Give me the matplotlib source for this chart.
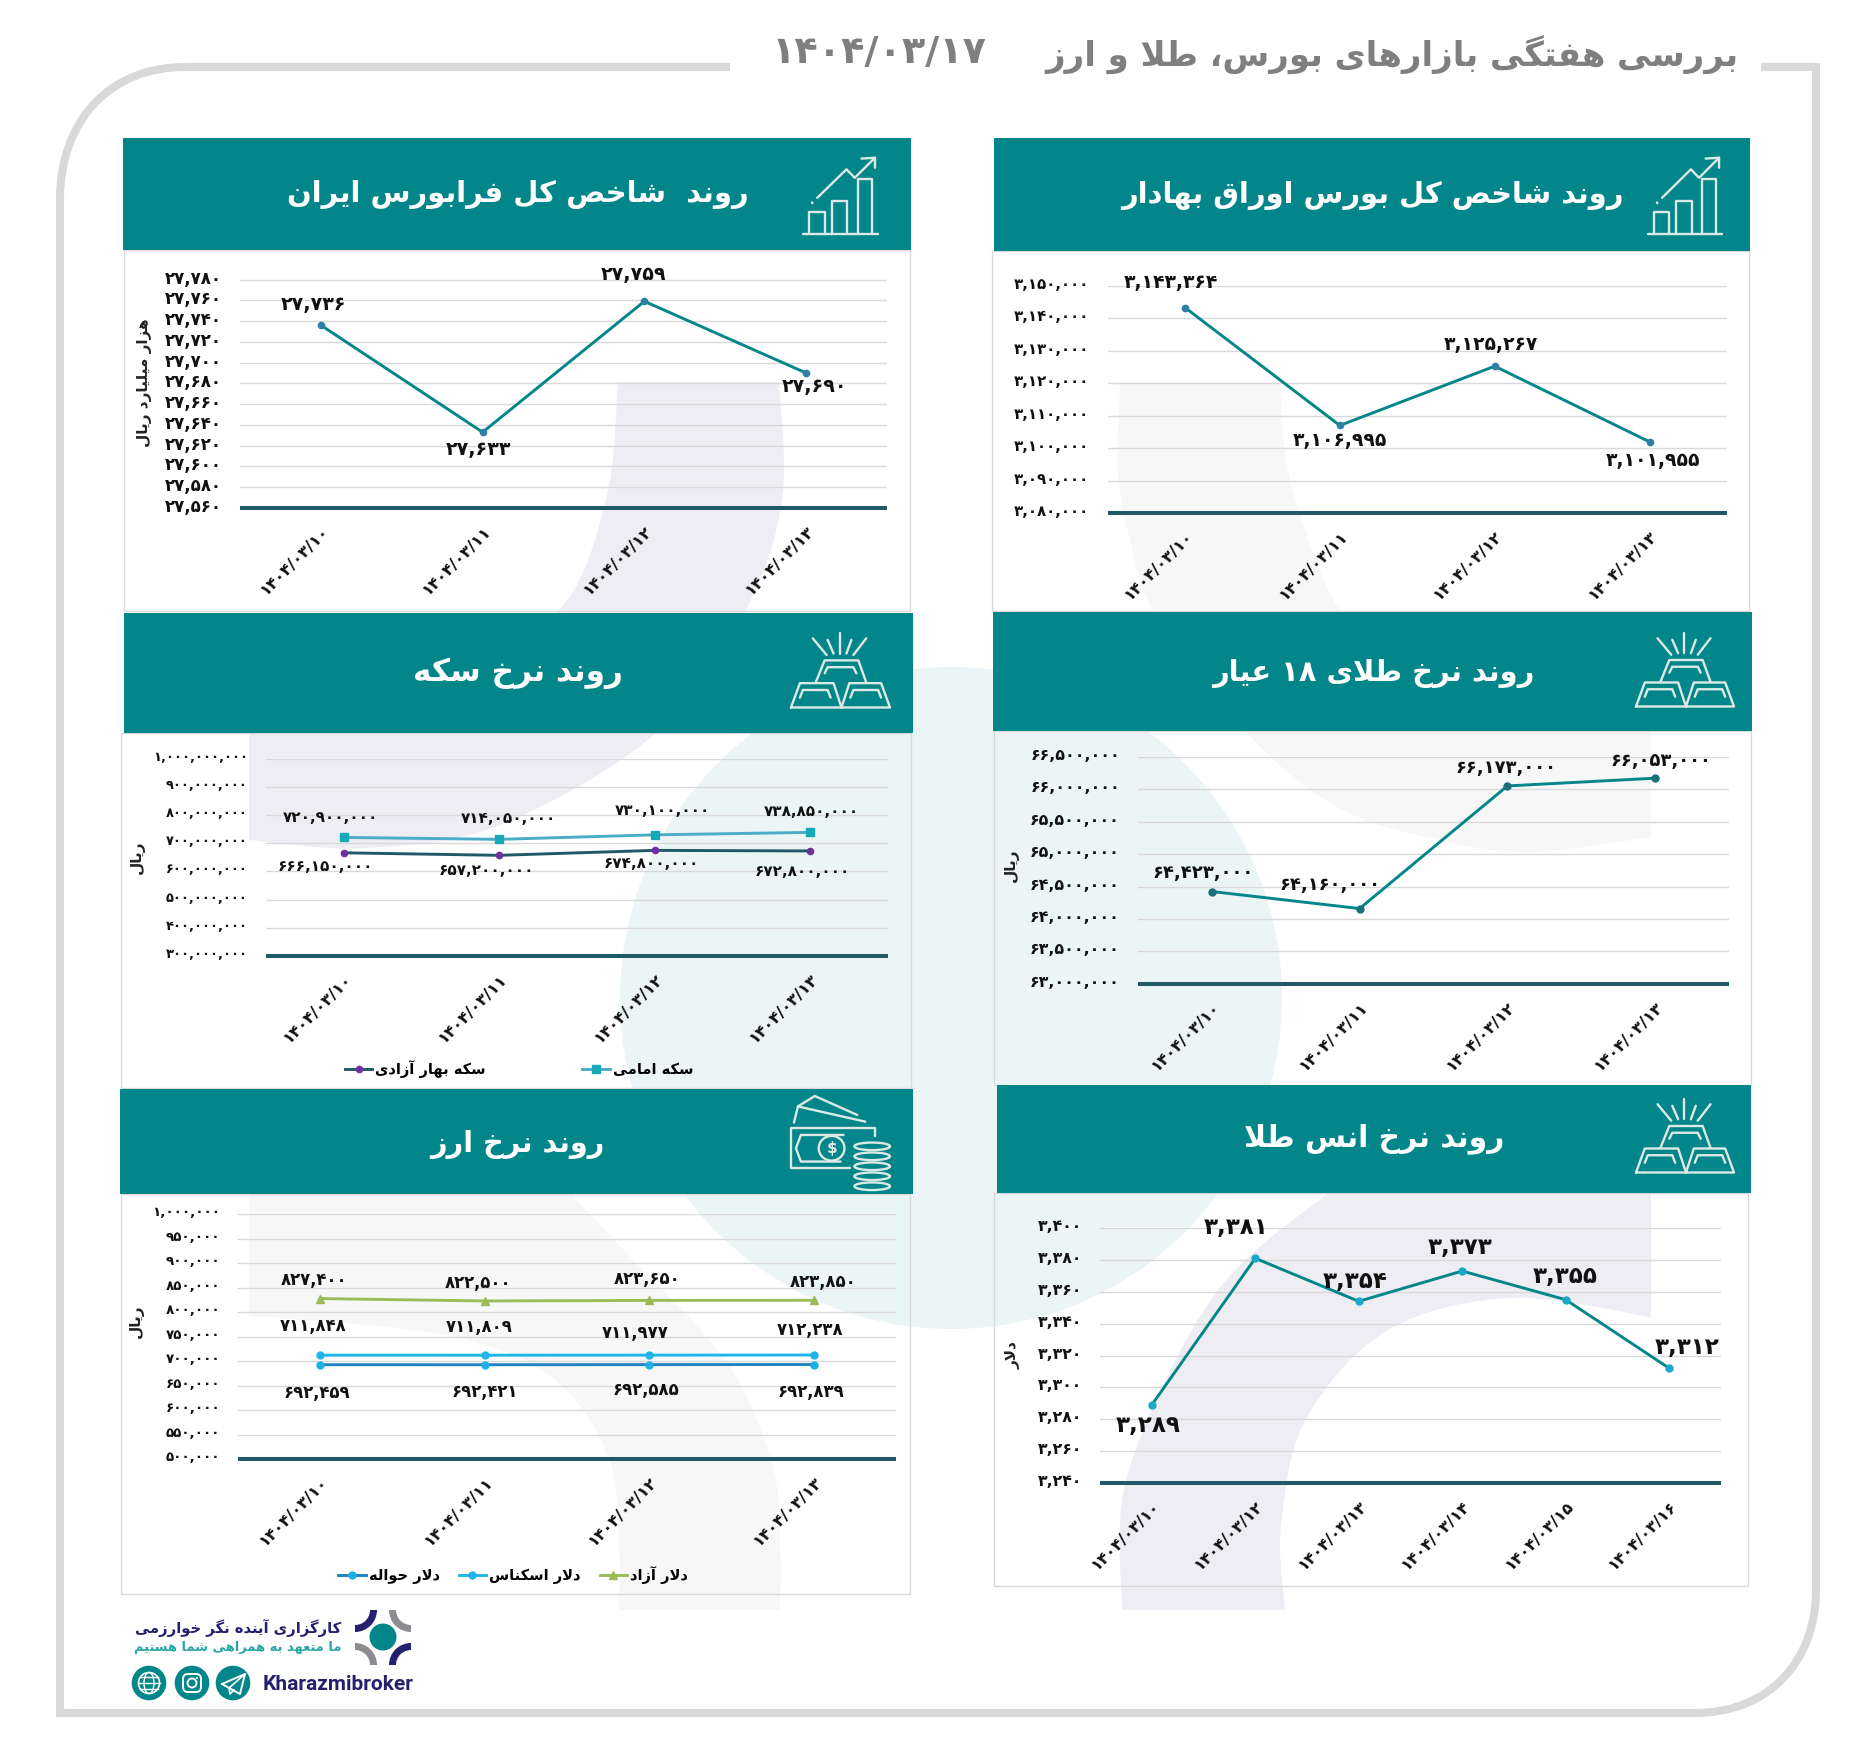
import re
import numpy
import matplotlib
matplotlib.use('Agg')
from matplotlib import pyplot
from matplotlib.patches import Rectangle, Circle, Ellipse, Wedge, Polygon, PathPatch, FancyBboxPatch
from matplotlib.path import Path
from matplotlib.ticker import FuncFormatter
from matplotlib.transforms import ScaledTranslation

W, H = 1860, 1744

# DATA
dates_four = ['۱۴۰۴/۰۳/۱۰', '۱۴۰۴/۰۳/۱۱', '۱۴۰۴/۰۳/۱۲', '۱۴۰۴/۰۳/۱۳']
dates_ounce = ['۱۴۰۴/۰۳/۱۰', '۱۴۰۴/۰۳/۱۲', '۱۴۰۴/۰۳/۱۳', '۱۴۰۴/۰۳/۱۴', '۱۴۰۴/۰۳/۱۵', '۱۴۰۴/۰۳/۱۶']

bourse = [3143364, 3106995, 3125267, 3101955]
farabourse = [27736, 27633, 27759, 27690]
gold18 = [64423000, 64160000, 66053000, 66173000]
# the last two labels are swapped against their points in the original
gold18_labels = [64423000, 64160000, 66173000, 66053000]
coin_emami = [720900000, 714050000, 730100000, 738850000]
coin_bahar = [666150000, 657200000, 674800000, 672800000]
ounce = [3289, 3381, 3354, 3373, 3355, 3312]
usd_free = [827400, 822500, 823650, 823850]
usd_cash = [711848, 711809, 711977, 712238]
usd_transfer = [692459, 692421, 692585, 692839]

main_title = 'بررسی هفتگی بازارهای بورس، طلا و ارز'
main_date = '۱۴۰۴/۰۳/۱۷'

# COLOURS
TEAL = '#02868a'
AXISLINE = '#215968'
GRID = '#d9d9d9'
FRAME = '#d9d9d9'
LAVENDER = '#eeedf4'
PALEGREY = '#f7f7f7'
PALETEAL = '#ebf5f6'
ICON = '#dde9e6'
NAVY = '#25206e'
GREY = '#8c8c90'

# PERSIAN TEXT
# matplotlib does no shaping, so letters are swapped for their presentation forms
FORMS = {
    'ا': (0xFE8D, 0xFE8E), 'آ': (0xFE81, 0xFE82), 'د': (0xFEA9, 0xFEAA), 'ر': (0xFEAD, 0xFEAE),
    'ز': (0xFEAF, 0xFEB0), 'و': (0xFEED, 0xFEEE), '\uFEFB': (0xFEFB, 0xFEFC),
    'ب': (0xFE8F, 0xFE90, 0xFE91, 0xFE92), 'پ': (0xFB56, 0xFB57, 0xFB58, 0xFB59),
    'ت': (0xFE95, 0xFE96, 0xFE97, 0xFE98), 'ح': (0xFEA1, 0xFEA2, 0xFEA3, 0xFEA4),
    'خ': (0xFEA5, 0xFEA6, 0xFEA7, 0xFEA8), 'س': (0xFEB1, 0xFEB2, 0xFEB3, 0xFEB4),
    'ش': (0xFEB5, 0xFEB6, 0xFEB7, 0xFEB8), 'ص': (0xFEB9, 0xFEBA, 0xFEBB, 0xFEBC),
    'ط': (0xFEC1, 0xFEC2, 0xFEC3, 0xFEC4), 'ع': (0xFEC9, 0xFECA, 0xFECB, 0xFECC),
    'ف': (0xFED1, 0xFED2, 0xFED3, 0xFED4), 'ق': (0xFED5, 0xFED6, 0xFED7, 0xFED8),
    'ک': (0xFB8E, 0xFB8F, 0xFB90, 0xFB91), 'گ': (0xFB92, 0xFB93, 0xFB94, 0xFB95),
    'ل': (0xFEDD, 0xFEDE, 0xFEDF, 0xFEE0), 'م': (0xFEE1, 0xFEE2, 0xFEE3, 0xFEE4),
    'ن': (0xFEE5, 0xFEE6, 0xFEE7, 0xFEE8), 'ه': (0xFEE9, 0xFEEA, 0xFEEB, 0xFEEC),
    'ی': (0xFBFC, 0xFBFD, 0xFBFE, 0xFBFF),
}


def shape(text):
    text = text.replace('لا', '\uFEFB')
    out = []
    for i, c in enumerate(text):
        if c not in FORMS:
            out.append(c)
            continue
        prev = text[i-1] if i > 0 else ' '
        nxt = text[i+1] if i < len(text)-1 else ' '
        f = FORMS[c]
        join_prev = prev in FORMS and len(FORMS[prev]) == 4
        join_next = nxt in FORMS and len(f) == 4
        if join_prev and join_next:
            out.append(chr(f[3]))
        elif join_next:
            out.append(chr(f[2]))
        elif join_prev:
            out.append(chr(f[1]))
        else:
            out.append(chr(f[0]))
    res = ''.join(out)[::-1]
    # digits keep reading left to right
    return re.sub('[۰-۹]+', lambda m: m.group()[::-1], res)


def fa_num(v, pos=None):
    return f'{v:,.0f}'.translate(str.maketrans('0123456789', '۰۱۲۳۴۵۶۷۸۹'))


# HELPERS
def curve(pts, n=12):
    # catmull-rom through the points
    p = numpy.array(pts, dtype=float)
    p = numpy.vstack([p[0], p, p[-1]])
    out = []
    for i in range(1, len(p)-2):
        for t in numpy.linspace(0, 1, n, endpoint=False):
            out.append(0.5*((2*p[i]) + (p[i+1]-p[i-1])*t + (2*p[i-1]-5*p[i]+4*p[i+1]-p[i+2])*t*t
                            + (3*p[i]-p[i-1]-3*p[i+1]+p[i+2])*t*t*t))
    out.append(p[-2])
    return numpy.array(out)


def icon(box, lines, lw=1.7):
    x, y, w, h = box
    for l in lines:
        l = numpy.array(l)
        bg.plot(x + l[:, 0]*w, y + l[:, 1]*h, color=ICON, lw=lw, solid_capstyle='round', zorder=5)


def chart_icon(box):
    icon(box, [
        [(0, 1), (1, 1)],
        [(.08, 1), (.08, .72), (.29, .72), (.29, 1)],
        [(.38, 1), (.38, .57), (.59, .57), (.59, 1)],
        [(.73, 1), (.73, .29), (.92, .29), (.92, 1)],
        [(.19, .53), (.58, .16), (.69, .27), (.96, .01)],
        [(.78, .02), (.96, .01), (.96, .14)],
        [(.12, .59), (.125, .6)],
    ])


def gold_icon(box):
    icon(box, [
        [(.22, .07), (.36, .29)], [(.37, .09), (.43, .27)], [(.49, 0), (.49, .27)],
        [(.61, .09), (.56, .27)], [(.76, .07), (.63, .29)],
        [(.25, .65), (.34, .36), (.68, .36), (.76, .65)],
        [(.34, .53), (.37, .45), (.63, .45), (.66, .53)],
        [(0, .98), (.09, .66), (.43, .66), (.51, .98), (0, .98)],
        [(.51, .98), (.59, .66), (.91, .66), (1, .98), (.51, .98)],
        [(.09, .85), (.12, .75), (.37, .75), (.4, .85)],
        [(.6, .85), (.63, .75), (.88, .75), (.91, .85)],
    ])


def money_icon(box):
    x, y, w, h = box
    icon(box, [
        [(.03, .28), (.07, .11), (.75, .27)],
        [(.07, .11), (.24, 0), (.67, .2)],
        [(.85, .42), (.85, .34), (0, .34), (0, .76), (.6, .76)],
        [(.53, .41), (.1, .41), (.05, .55), (.1, .69), (.5, .69)],
    ])
    bg.add_patch(Ellipse((x+.41*w, y+.55*h), .26*w, .26*h, fc=TEAL, ec=ICON, lw=1.7, zorder=6))
    bg.text(x+.41*w, y+.55*h, '$', color=ICON, fontsize=11, fontweight='bold', ha='center', va='center', zorder=7)
    bg.add_patch(Rectangle((x+.64*w, y+.5*h), .36*w, .46*h, fc=TEAL, ec='none', zorder=6))
    for k in range(5):
        bg.add_patch(Ellipse((x+.82*w, y+(.95-k*.105)*h), .36*w, .08*h, fc=TEAL, ec=ICON, lw=1.7, zorder=6+k*.1))


def header(rect, body, title, tx, ty, size):
    x0, y0, x1, y1 = rect
    bx0, by0, bx1, by1 = body
    bg.add_patch(Rectangle((bx0, by0), bx1-bx0, by1-by0, fc='none', ec=GRID, lw=1.0, zorder=3))
    bg.add_patch(Rectangle((x0, y0), x1-x0, y1-y0, fc=TEAL, ec='none', zorder=4))
    bg.text(tx, ty, shape(title), color='white', fontsize=size, fontweight='bold', ha='center', va='center', zorder=6)


def chart(rect, dates, ylim, step, series, ylabel=None, ylabel_at=None, label_size=9.5, tick_size=9.2):
    # rect is the grid area in pixels, series holds (values, labels, colour, marker, marker colour, offsets)
    x0, y0, x1, y1 = rect
    ax = fig.add_axes([x0/W, 1-y1/H, (x1-x0)/W, (y1-y0)/H], zorder=10)
    ax.patch.set_alpha(0)
    lines = []
    pos = numpy.arange(len(dates))
    for values, labels, col, marker, mcol, ms, offs in series:
        l, = ax.plot(pos, values, color=col, lw=2.1, marker=marker, ms=ms, mfc=mcol, mec=mcol, clip_on=False, zorder=4)
        lines.append(l)
        for i, lab in enumerate(labels):
            ax.annotate(fa_num(lab), (pos[i], values[i]), xytext=offs[i], textcoords='offset pixels',
                        ha='center', va='center', fontsize=label_size, fontweight='bold', color='#111111', zorder=5)
    ax.set_xlim(-0.5, len(dates)-0.5)
    ax.set_ylim(*ylim)
    ax.set_yticks(numpy.arange(ylim[0], ylim[1]+step/2, step))
    ax.yaxis.set_major_formatter(FuncFormatter(fa_num))
    ax.set_xticks(pos)
    ax.set_xticklabels(dates, rotation=45, ha='right', rotation_mode='anchor', fontsize=11.5, fontweight='bold', color='#111111')
    ax.tick_params(axis='both', length=0)
    ax.tick_params(axis='y', labelsize=tick_size, pad=13, labelcolor='#111111')
    ax.tick_params(axis='x', pad=11)
    # tick labels sit a little above their grid lines
    lift = ScaledTranslation(0, 3/100, fig.dpi_scale_trans)
    for t in ax.get_yticklabels():
        t.set_fontweight('bold')
        t.set_transform(t.get_transform() + lift)
    ax.grid(axis='y', color=GRID, lw=1.0)
    ax.set_axisbelow(True)
    for s in ['top', 'left', 'right']:
        ax.spines[s].set_visible(False)
    ax.spines['bottom'].set_color(AXISLINE)
    ax.spines['bottom'].set_linewidth(2.9)
    ax.spines['bottom'].set_capstyle('butt')
    if ylabel:
        ax.set_ylabel(shape(ylabel), fontsize=11, fontweight='bold', color='#222222', ha='center', va='center')
        ax.yaxis.set_label_coords(ylabel_at[0], ylabel_at[1], transform=bg.transData)
    return ax, lines


# FIGURE
fig = pyplot.figure(figsize=(W/100, H/100), dpi=100, facecolor='white')
bg = fig.add_axes([0, 0, 1, 1], zorder=0)
bg.set_xlim(0, W)
bg.set_ylim(H, 0)
bg.set_axis_off()

# WATERMARK
bg.add_patch(Circle((951, 998), 331, fc=PALETEAL, ec='none', zorder=1))
top_left = numpy.vstack([
    [(618, 382), (779, 382)],
    curve([(779, 382), (782, 500), (745, 611), (656, 733), (500, 825), (365, 848), (249, 840)]),
    [(249, 640)],
    curve([(450, 650), (558, 611), (606, 500), (618, 382)]),
])
bottom_right = numpy.vstack([
    curve([(1122, 1610), (1128, 1473), (1215, 1294), (1332, 1190)]),
    [(1651, 1190), (1651, 1317)],
    curve([(1651, 1317), (1511, 1298), (1388, 1330), (1306, 1419), (1281, 1526), (1285, 1610)]),
])
top_right = numpy.vstack([
    [(1120, 382), (1280, 382)],
    curve([(1280, 382), (1290, 480), (1340, 611), (1420, 680), (1651, 690)]),
    [(1651, 837)],
    curve([(1651, 837), (1531, 852), (1439, 840), (1337, 807), (1245, 731), (1154, 611), (1130, 540), (1118, 470), (1120, 382)]),
])
bottom_left = numpy.vstack([
    [(249, 1190), (571, 1190)],
    curve([(571, 1194), (629, 1256), (725, 1360), (772, 1463), (780, 1546), (780, 1610)]),
    curve([(619, 1610), (619, 1546), (608, 1455), (550, 1376), (444, 1335), (249, 1316)]),
])
bg.add_patch(Polygon(top_left, fc=LAVENDER, ec='none', zorder=2))
bg.add_patch(Polygon(bottom_right, fc=LAVENDER, ec='none', zorder=2))
bg.add_patch(Polygon(top_right, fc=PALEGREY, ec='none', zorder=2))
bg.add_patch(Polygon(bottom_left, fc=PALEGREY, ec='none', zorder=2))

# OUTER FRAME
frame = Path(
    [(730, 67), (185, 67), (110, 67), (60, 120), (60, 200), (60, 1713), (1695, 1713),
     (1770, 1713), (1816, 1660), (1816, 1590), (1816, 67), (1761, 67)],
    [Path.MOVETO, Path.LINETO, Path.CURVE4, Path.CURVE4, Path.CURVE4, Path.LINETO, Path.LINETO,
     Path.CURVE4, Path.CURVE4, Path.CURVE4, Path.LINETO, Path.LINETO])
bg.add_patch(PathPatch(frame, fc='none', ec=FRAME, lw=5.8, capstyle='butt', joinstyle='miter', zorder=3))

# TITLE
bg.text(1392, 55, shape(main_title), color='#7f7f7f', fontsize=24.4, fontweight='bold', ha='center', va='center')
bg.text(879, 53, main_date, color='#7f7f7f', fontsize=27.5, fontweight='bold', ha='center', va='center')

# PANELS
header((994, 138, 1750, 251), (992, 251, 1749, 611), 'روند شاخص کل بورس اوراق بهادار', 1372, 195, 20.8)
chart_icon((1648, 157, 74, 77))
chart((1107.5, 286, 1727, 513), dates_four, (3080000, 3150000), 10000, [
    (bourse, bourse, TEAL, 'o', '#2f7fa5', 4.5, [(-14, 25), (0, -15), (-4, 22), (3, -19)]),
], label_size=13.5, tick_size=10.8)

header((123, 138, 911, 250), (124, 250, 910, 611), 'روند  شاخص کل فرابورس ایران', 518, 194, 20.9)
chart_icon((803, 157, 75, 77))
chart((240, 279.5, 887, 508), dates_four, (27560, 27780), 20, [
    (farabourse, farabourse, TEAL, 'o', '#2f7fa5', 4.5, [(-7, 21), (-4, -17), (-11, 27), (8, -14)]),
], ylabel='هزار میلیارد ریال', ylabel_at=(144, 383), label_size=13.7, tick_size=12)

header((993, 612, 1752, 731), (994, 731, 1751, 1085), 'روند نرخ طلای ۱۸ عیار', 1373, 673, 20.8)
gold_icon((1636, 633, 98, 75))
chart((1138, 757, 1729, 983.7), dates_four, (63000000, 66500000), 500000, [
    (gold18, gold18_labels, TEAL, 'o', '#1b6f78', 5, [(-9, 19), (-30, 24), (-1, 18), (6, 17)]),
], ylabel='ریال', ylabel_at=(1011, 865), label_size=12.9, tick_size=11.4)

header((124, 612.7, 913, 733), (121, 733, 910.5, 1088), 'روند نرخ سکه', 518, 673, 22.4)
gold_icon((791, 633, 99, 76))
ax, ln = chart((266, 759, 888, 955.7), dates_four, (300000000, 1000000000), 100000000, [
    (coin_emami, coin_emami, '#4bacc6', 's', '#17a9b8', 6, [(-13, 20), (9, 21), (8, 24), (1, 21)]),
    (coin_bahar, coin_bahar, AXISLINE, 'o', '#7030a0', 4.5, [(-18, -14), (-13, -15), (-3, -13), (-8, -21)]),
], ylabel='ریال', ylabel_at=(137, 857), label_size=11, tick_size=9.4)
ax.legend([ln[1], ln[0]], [shape('سکه بهار آزادی'), shape('سکه امامی')], loc='center', ncols=2, frameon=False,
          bbox_to_anchor=(519/W, 1-1069/H), bbox_transform=fig.transFigure, columnspacing=6.6,
          handlelength=1.9, handletextpad=0.2, prop={'size': 10.5, 'weight': 'bold'})

header((120, 1089, 913, 1194), (121, 1194, 910, 1594), 'روند نرخ ارز', 517, 1144, 20.7)
money_icon((791, 1096, 99, 95))
ax, ln = chart((238, 1214, 896, 1459), dates_four, (500000, 1000000), 50000, [
    (usd_free, usd_free, '#9bbb59', '^', '#9bbb59', 6, [(-6, 19), (-7, 18), (-2, 21), (9, 18)]),
    (usd_cash, usd_cash, '#1fb5ea', 'o', '#1fb5ea', 5, [(-7, 29), (-6, 28), (-14, 22), (-4, 25)]),
    (usd_transfer, usd_transfer, '#1f83c4', 'o', '#1cb0e8', 5, [(-3, -28), (0, -27), (-3, -25), (-3, -27)]),
], ylabel='ریال', ylabel_at=(136, 1321), label_size=11.9, tick_size=9.7)
ax.legend([ln[2], ln[1], ln[0]], [shape('دلار حواله'), shape('دلار اسکناس'), shape('دلار آزاد')], loc='center', ncols=3,
          frameon=False, bbox_to_anchor=(513/W, 1-1575/H), bbox_transform=fig.transFigure, columnspacing=1.3,
          handlelength=1.9, handletextpad=0.2, prop={'size': 10.5, 'weight': 'bold'})

header((997, 1085, 1751, 1193), (994, 1193, 1748, 1586), 'روند نرخ انس طلا', 1374, 1139, 21.4)
gold_icon((1636, 1099, 98, 75))
chart((1100, 1228, 1721, 1483), dates_ounce, (3240, 3400), 20, [
    (ounce, ounce, TEAL, 'o', '#1ca8c8', 5, [(-4, -21), (-19, 31), (-4, 20), (-2, 24), (-1, 23), (18, 21)]),
], ylabel='دلار', ylabel_at=(1013, 1355), label_size=16.6, tick_size=11.3)

# LOGO
for cx, cy, a, col in [(355, 1610, 0, NAVY), (411, 1610, 90, GREY), (355, 1665, 270, GREY), (411, 1665, 180, NAVY)]:
    bg.add_patch(Wedge((cx, cy), 22, a, a+90, width=7, fc=col, ec='none', zorder=5))
bg.add_patch(Circle((383, 1637), 13.5, fc=TEAL, ec='none', zorder=5))
bg.text(238, 1628, shape('کارگزاری آینده نگر خوارزمی'), color=NAVY, fontsize=10.6, fontweight='bold', ha='center', va='center', zorder=5)
bg.text(238, 1647, shape('ما متعهد به همراهی شما هستیم'), color='#2aa6a6', fontsize=9.4, fontweight='bold', ha='center', va='center', zorder=5)
bg.text(338, 1684, 'Kharazmibroker', color=NAVY, fontsize=15, fontweight='bold', family='Roboto', ha='center', va='center', zorder=5)

for cx in [149, 192, 233]:
    bg.add_patch(Circle((cx, 1683), 17.3, fc=TEAL, ec='none', zorder=5))
# globe
bg.add_patch(Circle((149, 1683), 10.5, fc='none', ec='white', lw=1.2, zorder=6))
bg.add_patch(Ellipse((149, 1683), 10, 21, fc='none', ec='white', lw=1.0, zorder=6))
bg.plot([138.5, 159.5], [1683, 1683], color='white', lw=1.0, zorder=6)
bg.plot([140, 158], [1677, 1677], color='white', lw=1.0, zorder=6)
bg.plot([140, 158], [1689, 1689], color='white', lw=1.0, zorder=6)
# instagram
bg.add_patch(FancyBboxPatch((183, 1674), 18, 18, boxstyle='round,pad=0,rounding_size=5', fc='none', ec='white', lw=1.4, zorder=6))
bg.add_patch(Circle((192, 1683), 4.5, fc='none', ec='white', lw=1.4, zorder=6))
bg.add_patch(Circle((197, 1678), 1, fc='white', ec='none', zorder=6))
# telegram
bg.plot([222, 245, 240, 222], [1684, 1674, 1694, 1684], color='white', lw=1.4, zorder=6)
bg.plot([245, 229, 230, 234], [1674, 1688, 1694, 1690], color='white', lw=1.2, zorder=6)

fig.savefig('out.png', dpi=100)
